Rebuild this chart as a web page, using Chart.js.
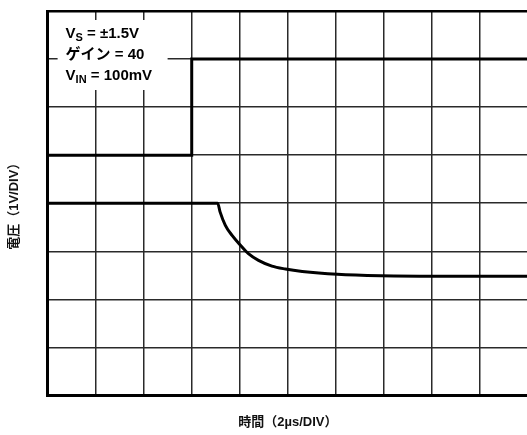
<!DOCTYPE html>
<html>
<head>
<meta charset="utf-8">
<script src="https://cdn.jsdelivr.net/npm/chart.js@4.4.1/dist/chart.umd.min.js"></script>
<style>
  html, body { margin: 0; padding: 0; background: #fff; overflow: hidden; }
  canvas { display: block; }
</style>
</head>
<body>
<canvas id="scope" width="532" height="435"></canvas>
<script>
// grid: 10 divisions across, 8 up
const xDivs = 10;
const yDivs = 8;

// input step (divisions)
const inputX = [0, 3.0, 3.0, 10];
const inputY = [5, 5, 7, 7];

// output response (divisions)
const outputX = [0, 3.54, 3.59, 3.70, 3.84, 4.01, 4.18, 4.39, 4.67, 4.95, 5.30, 6.03, 6.93, 8.4, 10];
const outputY = [4.0, 4.0, 3.82, 3.54, 3.33, 3.13, 2.95, 2.81, 2.69, 2.63, 2.58, 2.52, 2.49, 2.48, 2.48];

const xTitle = '時間（2µs/DIV）';
const yTitle = '電圧（1V/DIV）';

const fontFam = '"Liberation Sans", "Noto Sans CJK JP", sans-serif';
const gridColor = '#2a2a2a';

// label box in the top-left corner, with subscripts
const labelBox = {
  id: 'labelBox',
  beforeDatasetsDraw(chart) {
    const ctx = chart.ctx;
    const a = chart.chartArea;
    ctx.save();
    ctx.fillStyle = '#fff';
    ctx.fillRect(a.left + 10, a.top + 9, 110, 70);
    ctx.fillStyle = '#000';
    ctx.textBaseline = 'alphabetic';
    const big = 'bold 15px ' + fontFam;
    const small = 'bold 11px ' + fontFam;
    const lines = [
      [['V', big, 0], ['S', small, 3], [' = ±1.5V', big, 0]],
      [['ゲイン = 40', big, 0]],
      [['V', big, 0], ['IN', small, 3], [' = 100mV', big, 0]]
    ];
    let y = a.top + 27;
    lines.forEach(parts => {
      let x = a.left + 18;
      parts.forEach(([t, f, dy]) => {
        ctx.font = f;
        ctx.fillText(t, x, y + dy);
        x += ctx.measureText(t).width;
      });
      y += 21;
    });
    ctx.restore();
  }
};

new Chart(document.getElementById('scope'), {
  type: 'line',
  data: {
    datasets: [
      {
        data: inputX.map((x, i) => ({ x, y: inputY[i] })),
        borderColor: '#000',
        borderWidth: 3,
        pointRadius: 0,
        tension: 0
      },
      {
        data: outputX.map((x, i) => ({ x, y: outputY[i] })),
        borderColor: '#000',
        borderWidth: 3,
        pointRadius: 0,
        cubicInterpolationMode: 'monotone'
      }
    ]
  },
  options: {
    responsive: false,
    animation: false,
    layout: { padding: { top: 11, right: 4, bottom: 0, left: 0 } },
    plugins: {
      legend: { display: false },
      tooltip: { enabled: false }
    },
    scales: {
      x: {
        type: 'linear',
        min: 0,
        max: xDivs,
        ticks: { display: false, stepSize: 1 },
        grid: { drawTicks: false, color: gridColor, lineWidth: 1.5 },
        border: { display: true, color: '#000', width: 3 },
        title: {
          display: true,
          text: xTitle,
          color: '#111',
          font: { family: fontFam, size: 13, weight: 'bold' },
          padding: { top: 19, bottom: 5 }
        }
      },
      y: {
        type: 'linear',
        min: 0,
        max: yDivs,
        ticks: { display: false, stepSize: 1 },
        grid: {
          drawTicks: false,
          color: ctx => ctx.tick && ctx.tick.value === yDivs ? '#000' : gridColor,
          lineWidth: ctx => ctx.tick && ctx.tick.value === yDivs ? 2.5 : 1.5
        },
        border: { display: true, color: '#000', width: 3 },
        title: {
          display: true,
          text: yTitle,
          color: '#111',
          font: { family: fontFam, size: 13, weight: 'bold' },
          padding: { top: 7, bottom: 25 }
        }
      }
    }
  },
  plugins: [labelBox]
});
</script>
</body>
</html>
